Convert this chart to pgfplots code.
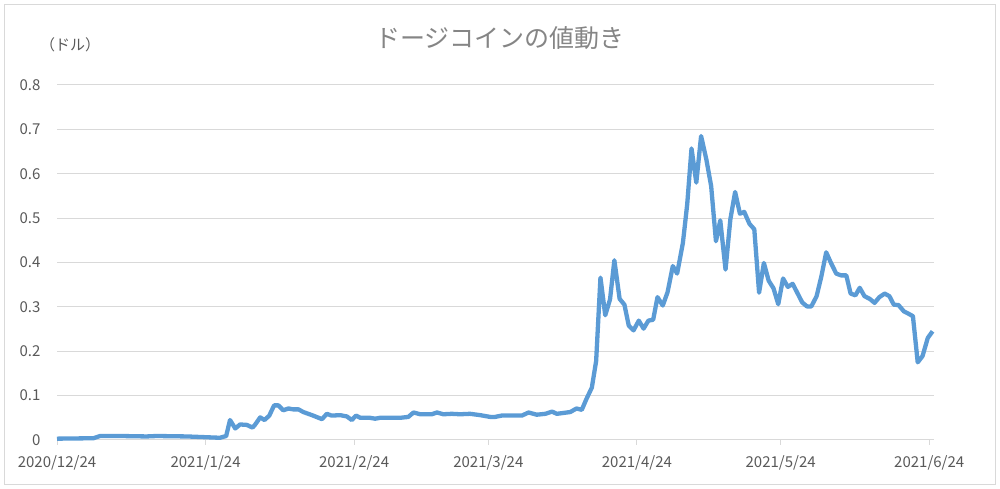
\documentclass[border=0pt]{standalone}
\usepackage{fontspec}
\setmainfont{Noto Sans CJK JP}
\usepackage{pgfplots}
\pgfplotsset{compat=1.18}
\definecolor{lineblue}{HTML}{5B9BD5}
\definecolor{txtgrey}{HTML}{595959}
\definecolor{titlegrey}{HTML}{858585}
\definecolor{gridgrey}{HTML}{D9D9D9}

\begin{document}
\begin{tikzpicture}[x=1pt,y=1pt]
\useasboundingbox (0,0) rectangle (1000,489);
\draw[gridgrey, line width=1pt] (4.5,4.5) rectangle (995.5,484.5);
\node[text=titlegrey, font=\fontsize{25}{29}\selectfont] at (500,451) {ドージコインの値動き};
\node[text=txtgrey, font=\fontsize{15}{18}\selectfont] at (70,444) {（ドル）};
\begin{axis}[
    at={(57pt,49pt)}, anchor=south west,
    scale only axis, width=877pt, height=355pt,
    xmin=0, xmax=183, ymin=0, ymax=0.8,
    % dates as day numbers from 2020/12/24
    xtick={0,31,62,90,121,151,182},
    xticklabels={2020/12/24,2021/1/24,2021/2/24,2021/3/24,2021/4/24,2021/5/24,2021/6/24},
    ytick={0,0.1,0.2,0.3,0.4,0.5,0.6,0.7,0.8},
    yticklabels={0,0.1,0.2,0.3,0.4,0.5,0.6,0.7,0.8},
    ymajorgrids,
    grid style={gridgrey, line width=1pt},
    axis x line*=bottom, axis y line*=left,
    x axis line style={gridgrey, line width=1pt, -},
    y axis line style={draw=none},
    tick align=outside, major tick length=5pt,
    xtick style={gridgrey, line width=1pt},
    ytick style={draw=none},
    ticklabel style={text=txtgrey, font=\fontsize{15}{18}\selectfont},
    xticklabel style={yshift=-7pt},
    yticklabel style={xshift=-8pt},
    clip=false,
]
\addplot[lineblue, line width=4.3pt, line join=round] coordinates {
(0,0.003) (7.6,0.004) (9.0,0.009) (13.2,0.009) (18.7,0.008) (20.8,0.009)
(27.1,0.008) (34.0,0.005) (35.3,0.009) (36.1,0.045) (37.2,0.026) (38.2,0.035)
(39.6,0.034) (40.8,0.028) (41.3,0.034) (42.4,0.051) (43.3,0.045) (44.3,0.055)
(45.3,0.078) (46.2,0.078) (47.2,0.067) (48.3,0.071) (49.3,0.069) (50.4,0.069)
(51.4,0.063) (53.2,0.056) (55.3,0.047) (56.3,0.059) (57.3,0.055) (59.1,0.056)
(60.5,0.053) (61.5,0.045) (62.4,0.055) (63.3,0.050) (65.3,0.050) (66.4,0.048)
(67.4,0.050) (71.6,0.050) (73.3,0.052) (74.4,0.062) (75.8,0.058) (78.2,0.058)
(79.3,0.062) (80.6,0.058) (82.4,0.059) (84.1,0.058) (86.2,0.059) (88.3,0.056)
(90.4,0.052) (91.4,0.052) (92.8,0.055) (97.0,0.055) (98.4,0.062) (100.1,0.057)
(101.9,0.059) (103.3,0.064) (104.3,0.059) (105.7,0.061) (107.1,0.063) (108.4,0.071)
(109.5,0.068) (110.5,0.093) (111.6,0.118) (112.5,0.178) (113.4,0.366) (114.4,0.281)
(115.4,0.317) (116.3,0.405) (117.4,0.318) (118.4,0.305) (119.3,0.258) (120.3,0.247)
(121.4,0.269) (122.4,0.251) (123.4,0.269) (124.4,0.271) (125.3,0.322) (126.4,0.303)
(127.4,0.333) (128.5,0.392) (129.4,0.375) (130.6,0.444) (131.5,0.531) (132.4,0.657)
(133.4,0.580) (134.4,0.685) (135.5,0.632) (136.5,0.572) (137.5,0.448) (138.4,0.495)
(139.5,0.384) (140.5,0.497) (141.5,0.559) (142.5,0.510) (143.4,0.514) (144.5,0.487)
(145.5,0.475) (146.5,0.332) (147.5,0.399) (148.5,0.359) (149.5,0.342) (150.5,0.306)
(151.5,0.364) (152.5,0.345) (153.5,0.352) (154.6,0.329) (155.5,0.310) (156.5,0.301)
(157.4,0.301) (158.5,0.324) (159.5,0.369) (160.5,0.423) (161.5,0.399) (162.6,0.375)
(163.6,0.371) (164.7,0.371) (165.6,0.330) (166.6,0.326) (167.5,0.343) (168.5,0.324)
(169.6,0.318) (170.6,0.309) (171.6,0.322) (172.7,0.330) (173.7,0.324) (174.6,0.305)
(175.6,0.304) (176.7,0.290) (177.6,0.285) (178.6,0.279) (179.6,0.175) (180.6,0.189)
(181.7,0.230) (182.7,0.245)
};
\end{axis}
\end{tikzpicture}
\end{document}
